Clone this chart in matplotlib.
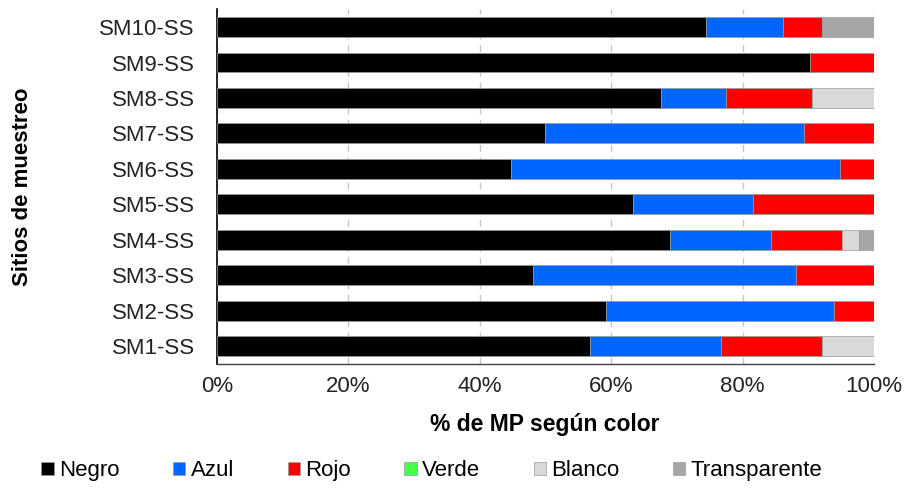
import matplotlib
matplotlib.use("Agg")
import matplotlib.pyplot as plt
import numpy as np

plt.rcParams['font.family'] = ['Liberation Sans', 'DejaVu Sans']

sites = ["SM1-SS", "SM2-SS", "SM3-SS", "SM4-SS", "SM5-SS",
         "SM6-SS", "SM7-SS", "SM8-SS", "SM9-SS", "SM10-SS"]
series_names = ["Negro", "Azul", "Rojo", "Verde", "Blanco", "Transparente"]
negro = [56.8, 59.2, 48.1, 68.9, 63.3, 44.7, 50.0, 67.6, 90.2, 74.4]
azul = [19.9, 34.7, 40.0, 15.5, 18.3, 50.2, 39.3, 9.9, 0.0, 11.8]
rojo = [15.4, 6.1, 11.9, 10.8, 18.4, 5.1, 10.7, 13.1, 9.8, 5.9]
verde = [0, 0, 0, 0, 0, 0, 0, 0, 0, 0]
blanco = [7.9, 0, 0, 2.5, 0, 0, 0, 9.4, 0, 0]
transparente = [0, 0, 0, 2.3, 0, 0, 0, 0, 0, 7.9]
colors = ["#000000", "#0066FF", "#FF0000", "#44FF44", "#D9D9D9", "#A6A6A6"]
xticks = [0, 20, 40, 60, 80, 100]
xticklabels = ["0%", "20%", "40%", "60%", "80%", "100%"]

data = [negro, azul, rojo, verde, blanco, transparente]

fig = plt.figure(figsize=(9.19, 4.91), dpi=100)
ax = fig.add_axes([0.236, 0.259, 0.715, 0.722])

y = np.arange(len(sites))
left = np.zeros(len(sites))
totals = np.array([sum(d[i] for d in data) for i in range(len(sites))])
for name, vals, c in zip(series_names, data, colors):
    vals = np.array(vals, dtype=float)
    pct = vals / totals * 100
    ax.barh(y, pct, left=left, height=0.56, color=c,
            edgecolor="#9a9a9a", linewidth=0.5, label=name, zorder=3)
    left += pct

ax.set_xlim(0, 100)
ax.set_ylim(-0.5, len(sites) - 0.5)
ax.set_xticks(xticks)
ax.set_xticklabels(xticklabels, fontsize=16, color="#222222")
ax.set_yticks(y)
ax.set_yticklabels(sites, fontsize=16, color="#222222")
ax.tick_params(axis="both", length=0)
ax.tick_params(axis="y", pad=16)
ax.tick_params(axis="x", pad=9)

ax.grid(axis="x", color="#c8c8c8", linestyle=(0, (5, 4)), linewidth=1.0, zorder=0)
for s in ["top", "right"]:
    ax.spines[s].set_visible(False)
ax.spines["left"].set_color("#000000")
ax.spines["left"].set_linewidth(1.2)
ax.spines["bottom"].set_color("#404040")
ax.spines["bottom"].set_linewidth(1.0)

ax.set_xlabel("% de MP según color", fontsize=16.5, fontweight="bold")
ax.xaxis.set_label_coords(0.499, -0.139)
ax.set_ylabel("Sitios de muestreo", fontsize=16, fontweight="bold")
ax.yaxis.set_label_coords(-0.28, 0.5)

fig.legend(loc="center", bbox_to_anchor=(0.47, 0.041), ncol=6, frameon=False,
           fontsize=16, handlelength=0.55, handleheight=0.55, handletextpad=0.25,
           columnspacing=2.4)

fig.savefig("out.png", dpi=100)
